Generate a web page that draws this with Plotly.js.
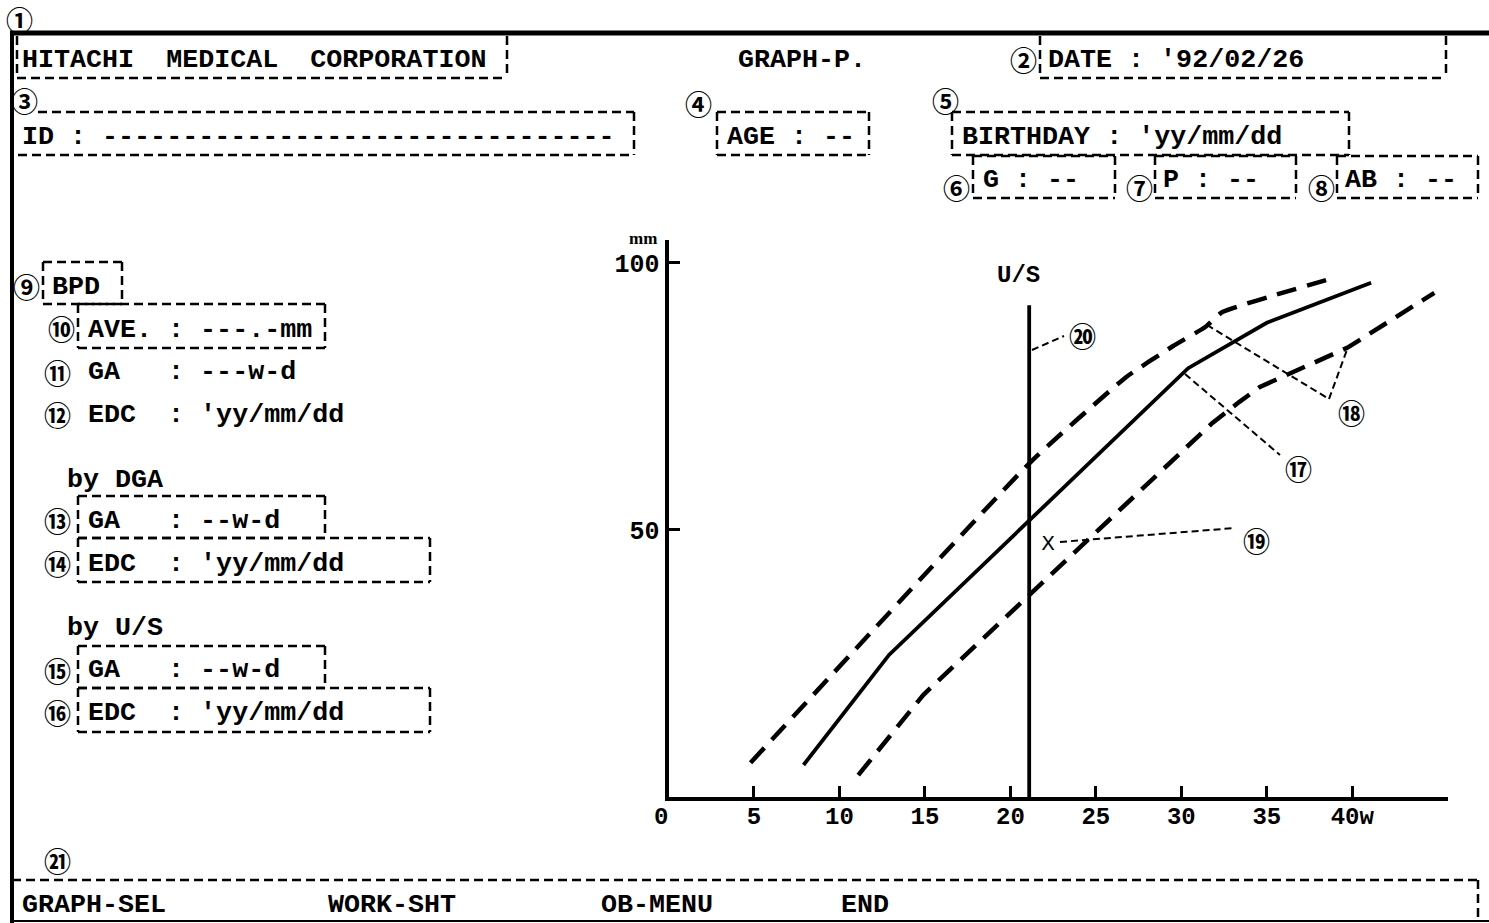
<!DOCTYPE html>
<html>
<head>
<meta charset="utf-8">
<script src="https://cdn.plot.ly/plotly-3.0.1.min.js"></script>
<style>
html,body{margin:0;padding:0;background:#fff;}
#chart{width:1489px;height:923px;}
</style>
</head>
<body>
<div id="chart"></div>
<script>
// ---------------- data ----------------
const weeksMean  = [7.9, 12.9, 30.4, 35.0, 41.1];
const bpdMean    = [6.0, 26.6, 80.3, 88.8, 96.3];
const weeksUpper = [4.8, 21.3, 26.8, 29.5, 31.4, 32.4, 38.7];
const bpdUpper   = [6.4, 63.1, 78.7, 84.4, 88.0, 90.8, 97.0];
const weeksLower = [11.1, 14.9, 20.9, 31.8, 33.4, 34.6, 39.7, 44.8];
const bpdLower   = [4.1, 19.1, 37.2, 70.0, 74.0, 76.8, 84.1, 94.4];
const usWeek     = 21.1;
const usTop      = 92.1;
const measWeek   = [22.2];
const measBpd    = [47.2];
const xTickVals  = [0, 5, 10, 15, 20, 25, 30, 35, 40];
const xTickText  = ['0\u00a0', '5', '10', '15', '20', '25', '30', '35', '40w'];
const yTickVals  = [50, 100];
const yTickText  = ['50', '100'];

// ---------------- layout helpers (pixel -> paper) ----------------
const W = 1489, H = 923;
const P = x => x / W;
const Q = y => 1 - y / H;
const MONO = 'Liberation Mono, Courier New, monospace';
const CJK = 'Noto Sans CJK JP, DejaVu Sans, sans-serif';
const TXT = 26.7;

const shapes = [];
const annotations = [];

function line(x0, y0, x1, y1, width, dash) {
  shapes.push({type: 'line', xref: 'paper', yref: 'paper',
    x0: P(x0), y0: Q(y0), x1: P(x1), y1: Q(y1),
    line: {color: '#000', width: width, dash: dash || 'solid'}});
}
const BD = '9px,5px';
function box(x0, y0, x1, y1, sides) {
  sides = sides || 'tlrb';
  if (sides.includes('t')) line(x0, y0, x1, y0, 2.5, BD);
  if (sides.includes('b')) line(x0, y1, x1, y1, 2.5, BD);
  if (sides.includes('l')) line(x0, y0, x0, y1, 2.5, BD);
  if (sides.includes('r')) line(x1, y0, x1, y1, 2.5, BD);
}
function text(s, x, y, size, family, anchor) {
  annotations.push({xref: 'paper', yref: 'paper', x: P(x), y: Q(y),
    xanchor: anchor || 'left', yanchor: 'middle', showarrow: false, text: s,
    font: {family: family || MONO, size: size || TXT, color: '#000', weight: 'bold'}});
}
function circ(s, x, y) {
  annotations.push({xref: 'paper', yref: 'paper', x: P(x), y: Q(y),
    xanchor: 'center', yanchor: 'middle', showarrow: false, text: s, borderpad: 0,
    font: {family: CJK, size: 27, color: '#000', weight: 'bold'}});
}

// outer frame
line(10, 33, 1489, 33, 5);
line(12, 31, 12, 923, 4);
line(12, 921, 1489, 921, 2);

// header boxes
box(17, 36, 507, 78, 'lrb');
box(1040, 36, 1446, 78, 'lrb');
box(18, 112, 634, 155, 'rb');
line(38, 112, 634, 112, 2.5, BD);
box(717, 112, 869, 155);
box(952, 112, 1349, 155);
box(973, 156, 1115, 198);
box(1155, 156, 1296, 198);
box(1337, 156, 1478, 198);
// left panel boxes
box(43, 262, 122, 304);
box(78, 304, 325, 348);
box(78, 496, 325, 538);
box(78, 538, 430, 582);
box(78, 646, 325, 688);
box(78, 688, 430, 732);
// bottom menu box
line(12, 880, 1478, 880, 2.5, BD);
line(1478, 880, 1478, 921, 2.5, BD);

// header texts
text('HITACHI  MEDICAL  CORPORATION', 20, 60);
text('GRAPH-P.', 736, 60);
text("DATE : '92/02/26", 1046, 60);
text('ID : --------------------------------', 20, 137);
text('AGE : --', 725, 137);
text("BIRTHDAY : 'yy/mm/dd", 960, 137);
text('G : --', 981, 180);
text('P : --', 1161, 180);
text('AB : --', 1343, 180);
// left panel texts
text('BPD', 50, 287);
text('AVE. : ---.-mm', 86, 330);
text('GA   : ---w-d', 86, 372);
text("EDC  : 'yy/mm/dd", 86, 415);
text('by DGA', 65, 480);
text('GA   : --w-d', 86, 521);
text("EDC  : 'yy/mm/dd", 86, 564);
text('by U/S', 65, 628);
text('GA   : --w-d', 86, 670);
text("EDC  : 'yy/mm/dd", 86, 713);
// bottom menu
text('GRAPH-SEL', 20, 905);
text('WORK-SHT', 326, 905);
text('OB-MENU', 599, 905);
text('END', 839, 905);
// chart labels
text('mm', 659, 238, 17, 'Liberation Serif, serif', 'right');
text('U/S', 1018, 276, 24, MONO, 'center');

// circled reference numerals
circ('①', 19, 19);
circ('②', 1023, 60);
circ('③', 24, 100);
circ('④', 698, 104);
circ('⑤', 946, 101);
circ('⑥', 956, 187);
circ('⑦', 1139, 187);
circ('⑧', 1321, 187);
circ('⑨', 26, 286);
circ('⑩', 61, 328);
circ('⑪', 57, 372);
circ('⑫', 57, 414);
circ('⑬', 57, 520);
circ('⑭', 57, 563);
circ('⑮', 57, 670);
circ('⑯', 57, 712);
circ('⑰', 1298, 468);
circ('⑱', 1351, 412);
circ('⑲', 1256, 540);
circ('⑳', 1082, 336);
circ('㉑', 57, 860);

// leader lines
const LD = '7px,4px';
line(1032, 350, 1064, 336, 2, LD);
line(1185, 374, 1280, 455, 2, LD);
line(1207, 325, 1329, 399, 2, LD);
line(1329, 399, 1348, 347, 2, LD);
line(1060, 542, 1235, 528, 2, LD);

// ---------------- traces ----------------
const traces = [
  {x: weeksUpper, y: bpdUpper, mode: 'lines', line: {color: '#000', width: 4.5, dash: '20px,11px', shape: 'spline', smoothing: 0.4}, hoverinfo: 'skip'},
  {x: weeksMean, y: bpdMean, mode: 'lines', line: {color: '#000', width: 3.8}, hoverinfo: 'skip'},
  {x: weeksLower, y: bpdLower, mode: 'lines', line: {color: '#000', width: 4.5, dash: '20px,11px'}, hoverinfo: 'skip'},
  {x: [usWeek, usWeek], y: [0, usTop], mode: 'lines', line: {color: '#000', width: 3.8}, hoverinfo: 'skip'},
  {x: measWeek, y: measBpd, mode: 'text', text: ['X'], textposition: 'middle center',
   textfont: {family: 'DejaVu Sans, sans-serif', size: 20, color: '#000'}, hoverinfo: 'skip'}
];

const layout = {
  width: W, height: H,
  margin: {l: 0, r: 0, t: 0, b: 0},
  paper_bgcolor: '#fff', plot_bgcolor: 'rgba(0,0,0,0)',
  showlegend: false,
  xaxis: {
    domain: [P(668.5), P(1448)], range: [0, 45.6], fixedrange: true,
    showgrid: false, zeroline: false, showline: true, linecolor: '#000', linewidth: 4,
    ticks: 'inside', ticklen: 11, tickwidth: 3, tickcolor: '#000',
    tickmode: 'array', tickvals: xTickVals, ticktext: xTickText, ticklabelstandoff: -6,
    tickfont: {family: MONO, size: 24, color: '#000', weight: 'bold'}
  },
  yaxis: {
    domain: [Q(797), Q(240)], range: [0, 104.3], fixedrange: true,
    showgrid: false, zeroline: false, showline: true, linecolor: '#000', linewidth: 4,
    ticks: 'inside', ticklen: 11, tickwidth: 3, tickcolor: '#000',
    tickmode: 'array', tickvals: yTickVals, ticktext: yTickText,
    tickfont: {family: MONO, size: 25, color: '#000', weight: 'bold'}
  },
  shapes: shapes,
  annotations: annotations
};

Plotly.newPlot('chart', traces, layout, {staticPlot: true, displayModeBar: false});
</script>
</body>
</html>
